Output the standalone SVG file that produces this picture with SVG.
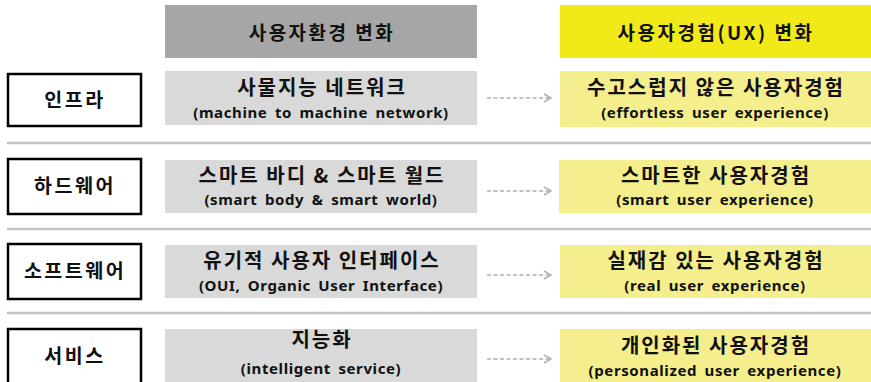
<svg xmlns="http://www.w3.org/2000/svg" width="871" height="382" viewBox="0 0 871 382">
<style>
.hdr{font-family:"Noto Sans CJK KR","Noto Sans",sans-serif;font-size:19px;font-weight:bold;fill:#111;text-anchor:middle;letter-spacing:2.5px}
.ko{font-family:"Noto Sans CJK KR","Noto Sans",sans-serif;font-size:20px;font-weight:bold;fill:#111;text-anchor:middle;letter-spacing:2px}
.en{font-family:"Noto Sans","Noto Sans CJK KR",sans-serif;font-size:15px;font-weight:bold;fill:#111;text-anchor:middle;letter-spacing:0.6px;word-spacing:3px}
.lbl{font-family:"Noto Sans CJK KR","Noto Sans",sans-serif;font-size:19.5px;font-weight:bold;fill:#111;text-anchor:middle;letter-spacing:2.5px}
.lbox{fill:#fff;stroke:#000;stroke-width:2.5}
.gbox{fill:#d9d9d9}
.ybox{fill:#f4ef8c}
.div{stroke:#c3c3c3;stroke-width:2.5}
.arr{stroke:#b0b0b0;stroke-width:1.5;stroke-dasharray:4 2.5;fill:none}
</style>
<defs>
<marker id="ah" markerWidth="10" markerHeight="10" refX="8" refY="5" orient="auto" markerUnits="userSpaceOnUse">
<path d="M1,1 L8,5 L1,9" fill="none" stroke="#b0b0b0" stroke-width="1.5"/>
</marker>
</defs>
<rect width="871" height="382" fill="#fff"/>
<g id="header-env"><rect x="165" y="5" width="312" height="53" fill="#a6a6a6"/><text class="hdr" x="322" y="40">사용자환경 변화</text></g>
<g id="header-ux"><rect x="560" y="5" width="311" height="53" fill="#f2ea18"/><text class="hdr" x="716" y="40">사용자경험(UX) 변화</text></g>
<g id="dividers">
<line class="div" x1="7" y1="143" x2="871" y2="143"/>
<line class="div" x1="7" y1="229" x2="871" y2="229"/>
<line class="div" x1="7" y1="313" x2="871" y2="313"/>
</g>
<g id="label-infra"><rect class="lbox" x="8" y="74" width="133" height="52"/><text class="lbl" x="75" y="107">인프라</text></g>
<g id="label-hw"><rect class="lbox" x="8" y="159" width="133" height="55"/><text class="lbl" x="75" y="193">하드웨어</text></g>
<g id="label-sw"><rect class="lbox" x="8" y="244" width="133" height="55"/><text class="lbl" x="75" y="278">소프트웨어</text></g>
<g id="label-svc"><rect class="lbox" x="8" y="329" width="133" height="60"/><text class="lbl" x="75" y="363">서비스</text></g>
<g id="env-1"><rect class="gbox" x="165" y="71" width="312" height="54"/><text class="ko" x="322" y="95">사물지능 네트워크</text><text class="en" x="321" y="118">(machine to machine network)</text></g>
<g id="env-2"><rect class="gbox" x="165" y="160" width="312" height="53"/><text class="ko" x="322" y="183">스마트 바디 &amp; 스마트 월드</text><text class="en" x="321" y="205">(smart body &amp; smart world)</text></g>
<g id="env-3"><rect class="gbox" x="165" y="245" width="312" height="53"/><text class="ko" x="322" y="268">유기적 사용자 인터페이스</text><text class="en" x="321" y="291">(OUI, Organic User Interface)</text></g>
<g id="env-4"><rect class="gbox" x="165" y="329" width="312" height="60"/><text class="ko" x="322" y="347">지능화</text><text class="en" x="321" y="374">(intelligent service)</text></g>
<g id="ux-1"><rect class="ybox" x="560" y="71" width="311" height="56"/><text class="ko" x="716" y="95">수고스럽지 않은 사용자경험</text><text class="en" x="715" y="118">(effortless user experience)</text></g>
<g id="ux-2"><rect class="ybox" x="559" y="160" width="312" height="53"/><text class="ko" x="716" y="183">스마트한 사용자경험</text><text class="en" x="715" y="205">(smart user experience)</text></g>
<g id="ux-3"><rect class="ybox" x="560" y="245" width="311" height="53"/><text class="ko" x="716" y="268">실재감 있는 사용자경험</text><text class="en" x="715" y="291">(real user experience)</text></g>
<g id="ux-4"><rect class="ybox" x="560" y="329" width="311" height="60"/><text class="ko" x="716" y="353">개인화된 사용자경험</text><text class="en" x="715" y="376">(personalized user experience)</text></g>
<g id="connectors">
<line class="arr" x1="487" y1="98" x2="551" y2="98" marker-end="url(#ah)"/>
<line class="arr" x1="487" y1="191" x2="551" y2="191" marker-end="url(#ah)"/>
<line class="arr" x1="487" y1="275" x2="551" y2="275" marker-end="url(#ah)"/>
<line class="arr" x1="487" y1="359" x2="551" y2="359" marker-end="url(#ah)"/>
</g>
</svg>
